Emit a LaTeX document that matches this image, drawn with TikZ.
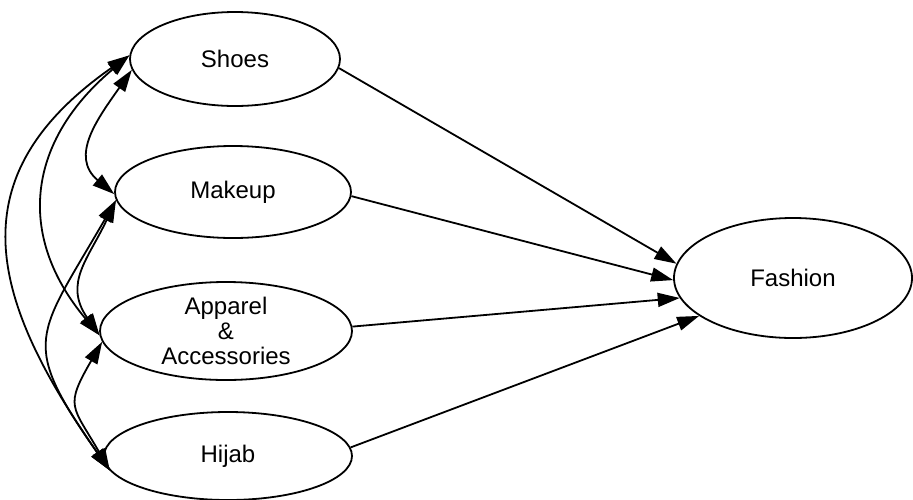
\documentclass[tikz,border=0pt]{standalone}
\usepackage{fontspec}
\setmainfont{Liberation Sans}
\usetikzlibrary{arrows.meta, shapes.geometric}

\begin{document}
\begin{tikzpicture}[
        x=1pt, y=1pt,
        every node/.style={font=\fontsize{24}{25}\selectfont},
        latent/.style={ellipse, draw, line width=1.8pt, inner sep=0pt, align=center},
        arrow/.style={-{Triangle[length=22pt, width=14pt]}, line width=1.8pt},
        covar/.style={{Triangle[length=22pt, width=14pt]}-{Triangle[length=22pt, width=14pt]}, line width=1.8pt}
    ]
        \useasboundingbox (0,0) rectangle (913,-499);
        \node[latent, minimum width=210pt, minimum height=94pt] (shoes) at (235,-59) {Shoes};
        \node[latent, minimum width=236pt, minimum height=92pt] (makeup) at (233,-192) {Makeup};
        \node[latent, minimum width=252pt, minimum height=98pt] (apparel) at (226,-331) {Apparel\\ \&\\ Accessories};
        \node[latent, minimum width=248pt, minimum height=88pt] (hijab) at (228,-456) {Hijab};
        \node[latent, minimum width=238pt, minimum height=120pt] (fashion) at (793,-278) {Fashion};
        \draw[arrow] (shoes.355) -- (fashion.173);
        \draw[arrow] (makeup.358) -- (fashion.181);
        \draw[arrow] (apparel.2) -- (fashion.190);
        \draw[arrow] (hijab.4) -- (fashion.202);
        \draw[covar] (shoes.186) to[out=235, in=140, looseness=1.2] (makeup.181);
        \draw[covar] (shoes.178) to[out=220, in=130, looseness=1.2] (apparel.182);
        \draw[covar] (shoes.178) to[out=215, in=125, looseness=1.3] (hijab.187);
        \draw[covar] (makeup.184) to[out=245, in=125, looseness=1.2] (apparel.182);
        \draw[covar] (makeup.184) to[out=240, in=125, looseness=1.5] (hijab.187);
        \draw[covar] (apparel.185) to[out=240, in=120, looseness=1.5] (hijab.187);
    \end{tikzpicture}
\end{document}
